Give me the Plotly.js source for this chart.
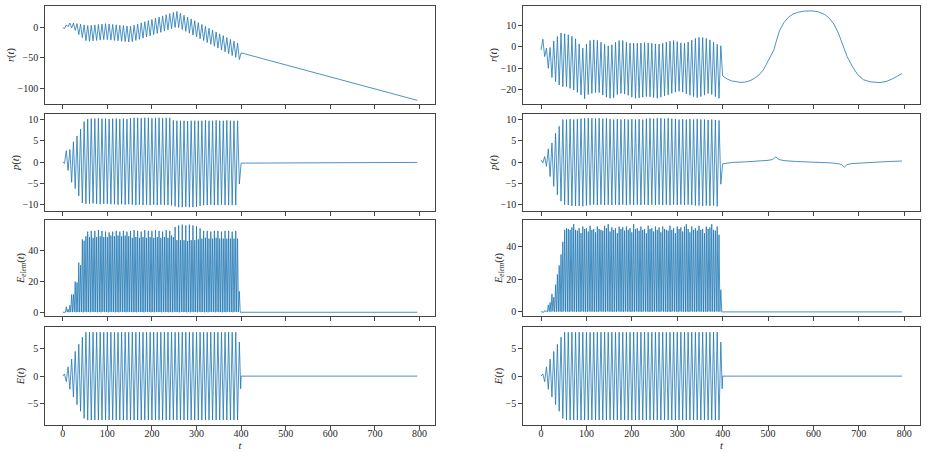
<!DOCTYPE html>
<html><head><meta charset="utf-8">
<script src="https://cdn.plot.ly/plotly-3.0.1.min.js"></script>
<style>html,body{margin:0;padding:0;background:#fff}#chart{width:927px;height:452px}</style>
</head><body><div id="chart"></div>
<script>
// times of the half-cycle extrema during the pulse (0..396)
const tPeak = [
0,4,8,12,16,20,24,28,32,36,
40,44,48,52,56,60,64,68,72,76,
80,84,88,92,96,100,104,108,112,116,
120,124,128,132,136,140,144,148,152,156,
160,164,168,172,176,180,184,188,192,196,
200,204,208,212,216,220,224,228,232,236,
240,244,248,252,256,260,264,268,272,276,
280,284,288,292,296,300,304,308,312,316,
320,324,328,332,336,340,344,348,352,356,
360,364,368,372,376,380,384,388,392,396];
// times between extrema (energy minima)
const tTrough = [
2,6,10,14,18,22,26,30,34,38,
42,46,50,54,58,62,66,70,74,78,
82,86,90,94,98,102,106,110,114,118,
122,126,130,134,138,142,146,150,154,158,
162,166,170,174,178,182,186,190,194,198,
202,206,210,214,218,222,226,230,234,238,
242,246,250,254,258,262,266,270,274,278,
282,286,290,294,298,302,306,310,314,318,
322,326,330,334,338,342,346,350,354,358,
362,366,370,374,378,382,386,390,394,398];

// ---------- left column ----------
const rLeft = [
-1,-2,4,1,7,-1,7,-5,6,-12,
5,-17,4,-22,3,-23,3.3,-22.3,4.0,-21.7,
4.7,-21.0,5.3,-20.3,6.0,-20.3,5.4,-21.0,4.7,-21.6,
4.1,-22.2,3.4,-22.9,2.8,-23.5,2.1,-24.2,1.5,-23.5,
3.4,-21.6,5.3,-19.7,7.3,-17.8,9.2,-15.8,11.1,-13.9,
13.0,-12.0,15.0,-10.1,16.9,-8.2,18.8,-6.2,20.7,-4.3,
22.7,-2.4,24.4,-0.3,26.0,-0.5,23.0,-3.6,19.9,-6.6,
16.8,-9.7,13.8,-12.8,10.7,-15.8,7.7,-18.9,4.6,-21.9,
1.6,-25.0,-1.5,-28.0,-4.6,-31.1,-7.6,-34.1,-10.7,-37.2,
-13.7,-40.3,-16.8,-43.3,-19.8,-46.4,-22.9,-49.4,-26.0,-53.0];
const rLeftTailT = [400, 795];
const rLeftTailV = [-42, -120];

const pLeft = [
0,-0.3,2.7,-2.0,3.0,-4.8,4.8,-6.3,6.2,-8.0,
7.8,-9.7,9.6,-9.9,10.2,-9.9,10.3,-9.8,10.3,-9.9,
10.4,-10.0,10.3,-9.9,10.3,-9.9,10.2,-10.0,10.3,-10.0,
10.3,-10.1,10.2,-10.0,10.3,-10.1,10.2,-10.0,10.4,-10.1,
10.5,-10.2,10.5,-10.1,10.4,-10.2,10.5,-10.1,10.5,-10.2,
10.4,-10.1,10.5,-10.2,10.5,-10.1,10.4,-10.2,10.5,-10.2,
10.5,-10.3,9.9,-10.5,9.8,-10.7,9.8,-10.7,9.8,-10.6,
9.7,-10.7,9.8,-10.7,9.8,-10.6,9.8,-10.4,9.8,-10.2,
9.9,-10.2,9.8,-10.1,9.8,-10.2,9.9,-10.2,9.8,-10.1,
9.8,-10.2,9.9,-10.2,9.8,-10.2,9.8,-10.2,9.8,-5.2];
const pLeftTailT = [400, 795];
const pLeftTailV = [-0.25, -0.08];

const eElecLeftPeaks = [
0,0.1,3.6,2.0,4.5,11.5,11.5,19.8,19.2,32.0,
30.4,47.0,46.1,49.0,52.0,48.5,52.5,48.0,52.5,48.5,
53.0,49.0,52.5,48.5,52.0,48.5,51.5,49.5,52.0,49.0,
52.5,49.5,52.0,49.0,52.5,49.5,52.0,49.0,52.5,48.0,
53.0,48.5,52.5,48.0,52.0,48.5,53.0,48.0,52.5,48.5,
52.5,48.0,53.0,48.5,52.5,48.0,52.0,48.5,53.0,48.0,
52.5,49.5,48.5,55.0,46.5,56.0,46.5,56.5,46.5,56.0,
46.0,56.5,46.5,56.0,46.5,55.5,47.0,54.0,47.5,52.5,
48.0,52.5,47.5,52.0,47.5,52.5,48.0,52.5,47.5,52.0,
47.5,52.5,47.5,52.5,47.5,52.0,47.5,52.5,47.5,13.5];
const eElecLeftTroughs = [
0,0,0.1,0,0.2,0.1,0.3,0,0.2,0.1,
0.2,0,0.3,0.1,0.2,0,0.3,0.1,0.2,0,
0.2,0,0.3,0.1,0.2,0,0.3,0.1,0.2,0,
0.2,0,0.3,0.1,0.2,0,0.3,0.1,0.2,0,
0.2,0,0.3,0.1,0.2,0,0.3,0.1,0.2,0,
0.2,0,0.3,0.1,0.2,0,0.3,0.1,0.2,0,
0.2,0,0.3,0.1,0.2,0,0.3,0.1,0.2,0,
0.2,0,0.3,0.1,0.2,0,0.3,0.1,0.2,0,
0.2,0,0.3,0.1,0.2,0,0.3,0.1,0.2,0,
0.2,0,0.3,0.1,0.2,0,0.3,0.1,0.2,0];
const eElecLeftTailT = [400, 795];
const eElecLeftTailV = [0, 0];

const fieldLeft = [
0,0.4,-1.0,1.7,-2.4,3.1,-3.8,4.5,-5.2,5.8,
-6.4,7.1,-7.7,8.0,-8.0,8.0,-8.0,8.0,-8.0,8.0,
-8,8,-8,8,-8,8,-8,8,-8,8,
-8,8,-8,8,-8,8,-8,8,-8,8,
-8,8,-8,8,-8,8,-8,8,-8,8,
-8,8,-8,8,-8,8,-8,8,-8,8,
-8,8,-8,8,-8,8,-8,8,-8,8,
-8,8,-8,8,-8,8,-8,8,-8,8,
-8,8,-8,8,-8,8,-8,8,-8,8,
-8,8,-8,8,-8,8,-8,8,-8,6.2];
const fieldLeftTailT = [399, 400, 795];
const fieldLeftTailV = [-2.3, 0, 0];

// ---------- right column ----------
const rRight = [
-1.4,3.6,-4.6,-0.6,-10.1,-0.3,-14.5,2.8,-16.4,4.9,
-18.0,6.5,-18.8,6.2,-18.8,5.7,-19.6,5.0,-20.4,3.8,
-21.5,1.4,-22.7,-0.6,-24.5,1.3,-22.5,3.0,-22.0,3.3,
-21.6,3.0,-21.6,2.2,-22.8,1.2,-23.8,0.5,-24.3,1.0,
-24.0,2.2,-22.5,3.0,-22.0,3.0,-22.3,2.2,-22.9,1.7,
-23.8,1.7,-24.3,1.7,-24.1,1.8,-23.8,2.0,-23.5,1.8,
-23.6,1.7,-23.9,1.4,-24.3,1.3,-23.8,1.7,-23.2,2.2,
-22.7,2.7,-22.0,3.0,-21.4,2.5,-21.0,1.9,-21.4,1.7,
-22.2,2.3,-22.9,3.2,-23.5,4.0,-24.0,4.5,-23.5,4.4,
-22.8,4.0,-22.0,3.3,-22.5,2.2,-23.5,1.2,-24.3,0.5];
const rRightTailT = [400,410,420,430,440,450,460,470,480,490,500,507,513,518,525,535,545,555,565,580,595,610,625,635,645,655,662,668,674,685,697,710,725,745,760,775,795];
const rRightTailV = [-13.7,-15.2,-16.1,-16.6,-16.8,-16.6,-16.0,-14.9,-13.3,-10.8,-7.0,-4.0,-1.4,2.5,7.5,11.5,14.0,15.5,16.3,16.9,17.0,16.6,15.3,13.5,10.8,6.5,2.5,-1.1,-4.5,-9.0,-13.0,-15.5,-16.5,-16.9,-16.4,-15.0,-12.6];

const pRight = [
0.5,-0.2,1.3,-1.0,3.1,-3.4,4.5,-5.7,6.8,-7.7,
8.4,-9.2,10.0,-10.0,10.0,-10.1,10.1,-10.3,10.0,-10.3,
10.1,-10.3,10.2,-10.4,10.3,-10.2,10.3,-10.1,10.3,-10.0,
10.2,-10.1,10.3,-10.0,10.2,-10.1,10.3,-10.0,10.1,-10.1,
10.0,-10.0,10.1,-10.1,10.0,-10.0,10.1,-10.1,10.0,-10.0,
10.1,-10.1,10.0,-10.0,10.1,-10.1,10.0,-10.0,10.2,-10.1,
10.3,-10.0,10.2,-10.1,10.3,-10.0,10.3,-10.1,10.2,-10.0,
10.3,-10.1,10.2,-10.0,10.1,-10.1,10.0,-10.0,10.1,-10.1,
10.0,-10.0,10.1,-10.1,10.0,-10.2,10.1,-10.2,10.0,-10.3,
10.0,-10.2,9.9,-10.3,10.0,-10.2,9.9,-10.4,9.8,-5.2];
const pRightTailT = [400,420,450,480,500,510,517,524,535,560,600,640,655,662,668,674,685,720,760,795];
const pRightTailV = [-0.4,-0.1,0.05,0.2,0.4,0.6,1.2,0.6,0.35,0.15,0,-0.2,-0.4,-0.6,-1.2,-0.6,-0.35,-0.1,0.1,0.25];

const eElecRightPeaks = [
0.1,0.0,0.8,0.5,4.3,5.8,11.0,9.0,16.6,22.8,
28.3,35.0,42.7,50.0,51.0,50.5,50.0,51.5,53.5,50.0,
49.5,51.0,48.0,52.0,50.5,51.0,49.0,52.5,50.0,50.5,
48.5,52.0,50.5,50.0,49.5,52.5,51.0,53.5,49.0,51.5,
50.0,51.0,48.0,52.0,50.5,51.5,49.5,52.0,50.0,51.0,
48.5,53.5,50.5,51.0,49.5,52.0,50.0,50.5,48.0,52.5,
50.5,51.0,49.0,52.0,50.0,51.5,48.5,52.0,50.5,50.0,
49.5,52.5,50.0,51.0,48.0,52.0,50.5,51.5,49.0,52.0,
53.5,50.5,48.5,52.0,50.0,51.0,49.5,52.5,50.0,50.5,
48.0,52.0,50.5,51.5,53.5,50.0,49.5,52.0,47.0,13.5];
const eElecRightTroughs = [
0,-0.2,0.1,0,0.2,0.1,0.3,0,0.2,0.1,
0.2,0,0.3,0.1,0.2,0,0.3,0.1,0.2,0,
0.2,0,0.3,0.1,0.2,0,0.3,0.1,0.2,0,
0.2,0,0.3,0.1,0.2,0,0.3,0.1,0.2,0,
0.2,0,0.3,0.1,0.2,0,0.3,0.1,0.2,0,
0.2,0,0.3,0.1,0.2,0,0.3,0.1,0.2,0,
0.2,0,0.3,0.1,0.2,0,0.3,0.1,0.2,0,
0.2,0,0.3,0.1,0.2,0,0.3,0.1,0.2,0,
0.2,0,0.3,0.1,0.2,0,0.3,0.1,0.2,0,
0.2,0,0.3,0.1,0.2,0,0.3,0.1,0.2,0];
const eElecRightTailT = [400, 795];
const eElecRightTailV = [0, 0];

const fieldRight = fieldLeft;            // same laser pulse in both runs
const fieldRightTailT = [399, 400, 795];
const fieldRightTailV = [-2.3, 0, 0];

const xTicks = [0,100,200,300,400,500,600,700,800];
const yLabels = ['<i>r</i>(<i>t</i>)', '<i>p</i>(<i>t</i>)', '<i>E</i><sub><i>elem</i></sub>(<i>t</i>)', '<i>E</i>(<i>t</i>)'];

// ---------- build ----------
function series(t, v, tT, vT) {
  const x = [], y = [];
  const n = Math.min(t.length, v.length);
  for (let i = 0; i < n; i++) { x.push(t[i]); y.push(v[i]); }
  for (let i = 0; i < tT.length; i++) { x.push(tT[i]); y.push(vT[i]); }
  return {x, y};
}
function interleaved(tP, vP, tQ, vQ, tT, vT) {
  const x = [], y = [];
  const n = Math.min(tP.length, vP.length, tQ.length, vQ.length);
  for (let i = 0; i < n; i++) { x.push(tP[i]); y.push(vP[i]); x.push(tQ[i]); y.push(vQ[i]); }
  for (let i = 0; i < tT.length; i++) { x.push(tT[i]); y.push(vT[i]); }
  return {x, y};
}

const panels = [
  series(tPeak, rLeft, rLeftTailT, rLeftTailV),
  series(tPeak, pLeft, pLeftTailT, pLeftTailV),
  interleaved(tPeak, eElecLeftPeaks, tTrough, eElecLeftTroughs, eElecLeftTailT, eElecLeftTailV),
  series(tPeak, fieldLeft, fieldLeftTailT, fieldLeftTailV),
  series(tPeak, rRight, rRightTailT, rRightTailV),
  series(tPeak, pRight, pRightTailT, pRightTailV),
  interleaved(tPeak, eElecRightPeaks, tTrough, eElecRightTroughs, eElecRightTailT, eElecRightTailV),
  series(tPeak, fieldRight, fieldRightTailT, fieldRightTailV)
];

const W = 927, H = 452;
const colX = [[45, 435], [523, 920]];
const rowY = [[6, 104], [114, 211], [220, 316], [327, 425]];
const yRanges = [[-126, 35], [-11.6, 11.4], [-2.4, 59.5], [-8.9, 8.95],
                 [-27, 19.3], [-11.5, 11.3], [-2.5, 56], [-8.9, 8.95]];
const yDticks = [50, 5, 20, 5, 10, 5, 20, 5];

const frameCol = '#444444';
const tickFont = {family: 'Liberation Serif, serif', size: 10, color: '#262626'};
const titleFont = {family: 'Liberation Serif, serif', size: 10.5, color: '#262626'};

const data = [];
const layout = {
  width: W, height: H,
  margin: {l: 0, r: 0, t: 0, b: 0},
  paper_bgcolor: '#fff', plot_bgcolor: '#fff',
  showlegend: false
};

panels.forEach((s, i) => {
  const col = i < 4 ? 0 : 1;
  const row = i % 4;
  const sfx = i === 0 ? '' : String(i + 1);
  data.push({
    type: 'scatter', mode: 'lines', x: s.x, y: s.y,
    xaxis: 'x' + sfx, yaxis: 'y' + sfx,
    line: {color: '#1f77b4', width: 0.8},
    hoverinfo: 'skip'
  });
  const xa = {
    domain: [colX[col][0] / W, colX[col][1] / W],
    range: [-39.75, 834.75],
    anchor: 'y' + sfx,
    tickmode: 'array', tickvals: xTicks,
    ticks: 'outside', ticklen: 3.5, tickwidth: 1, tickcolor: frameCol,
    showline: true, mirror: true, linecolor: frameCol, linewidth: 1.3,
    showgrid: false, zeroline: false,
    showticklabels: row === 3,
    ticklabelstandoff: -5,
    tickfont: tickFont
  };
  if (row === 3) xa.title = {text: '<i>t</i>', font: titleFont, standoff: 4};
  const ya = {
    domain: [1 - rowY[row][1] / H, 1 - rowY[row][0] / H],
    range: yRanges[i],
    anchor: 'x' + sfx,
    dtick: yDticks[i], tick0: 0,
    ticks: 'outside', ticklen: 3.5, tickwidth: 1, tickcolor: frameCol,
    showline: true, mirror: true, linecolor: frameCol, linewidth: 1.3,
    showgrid: false, zeroline: false,
    tickfont: tickFont,
    title: {text: yLabels[row], font: titleFont, standoff: 1}
  };
  layout['xaxis' + sfx] = xa;
  layout['yaxis' + sfx] = ya;
});

Plotly.newPlot('chart', data, layout, {staticPlot: true, displayModeBar: false});
</script>
</body></html>
